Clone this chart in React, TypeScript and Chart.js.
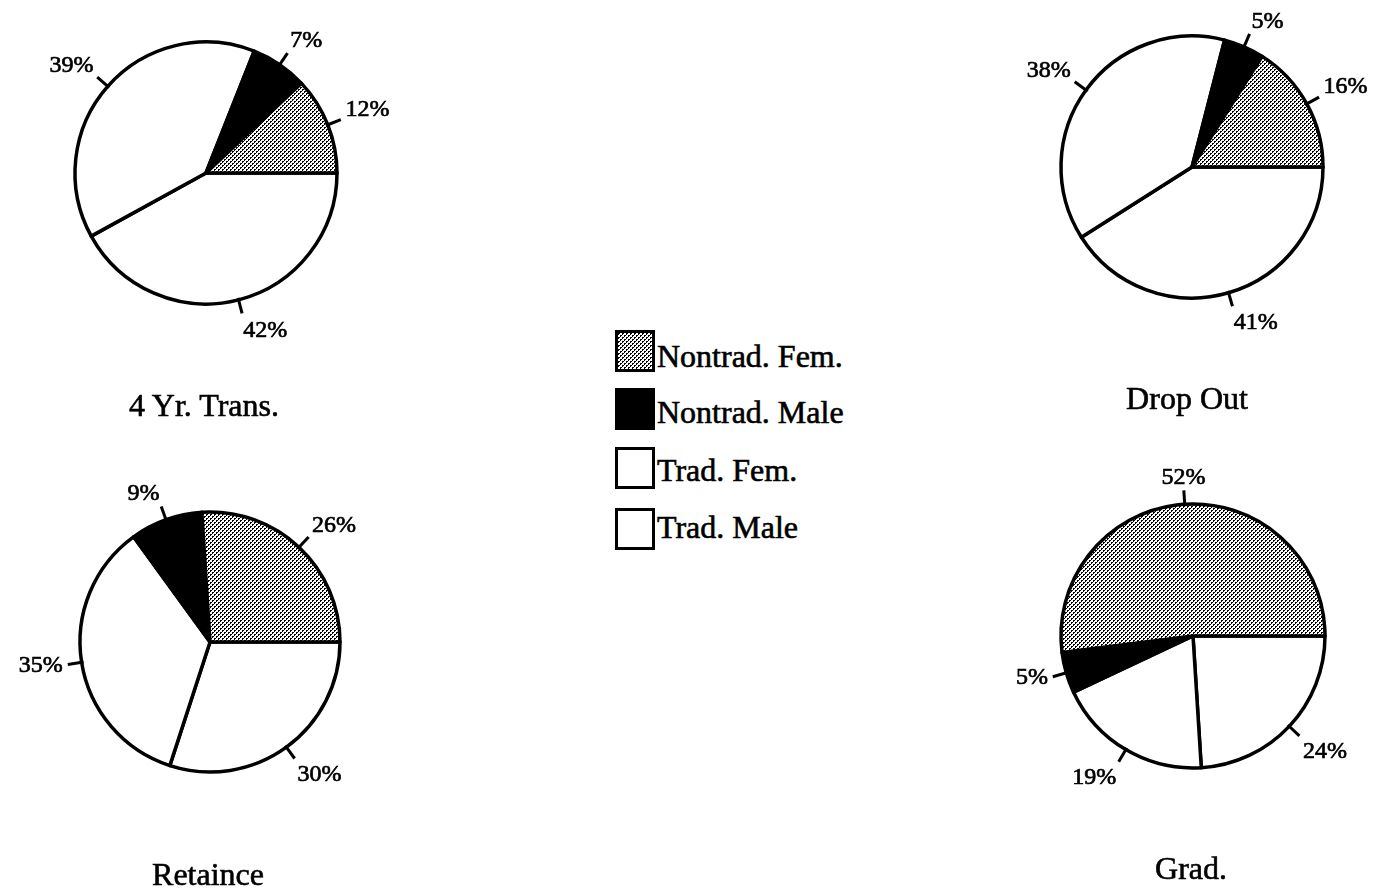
import React, { useEffect, useMemo, useRef } from "react";
import { Chart, registerables } from "chart.js";

Chart.register(...registerables);

// ---------- data ----------
const categories = ["Nontrad. Fem.", "Nontrad. Male", "Trad. Fem.", "Trad. Male"];
const transferValues = [12, 7, 39, 42];
const dropOutValues = [16, 5, 38, 41];
const retainceValues = [26, 9, 35, 30];
const gradValues = [52, 5, 19, 24];
const chartTitles = ["4 Yr. Trans.", "Drop Out", "Retaince", "Grad."];

const SERIF = "'Liberation Serif', 'Times New Roman', serif";

function makeStippleCanvas(): HTMLCanvasElement {
  const c = document.createElement("canvas");
  c.width = 4;
  c.height = 4;
  const g = c.getContext("2d")!;
  g.fillStyle = "#ffffff";
  g.fillRect(0, 0, 4, 4);
  g.fillStyle = "#000000";
  g.fillRect(0, 0, 2, 1);
  g.fillRect(0, 1, 1, 1);
  g.fillRect(2, 2, 2, 1);
  g.fillRect(2, 3, 1, 1);
  return c;
}

const pctLabels = {
  id: "pctLabels",
  afterDatasetsDraw(chart: any) {
    const ctx = chart.ctx as CanvasRenderingContext2D;
    const meta = chart.getDatasetMeta(0);
    const values = chart.data.datasets[0].data as number[];
    ctx.save();
    ctx.font = `24px ${SERIF}`;
    ctx.fillStyle = "#000";
    ctx.strokeStyle = "#000";
    meta.data.forEach((arc: any, i: number) => {
      const { x, y, startAngle, endAngle, outerRadius } = arc.getProps(
        ["x", "y", "startAngle", "endAngle", "outerRadius"],
        true
      );
      const a = (startAngle + endAngle) / 2;
      const c = Math.cos(a);
      const s = Math.sin(a);
      ctx.lineWidth = 3;
      ctx.beginPath();
      ctx.moveTo(x + c * (outerRadius - 2), y + s * (outerRadius - 2));
      ctx.lineTo(x + c * (outerRadius + 14), y + s * (outerRadius + 14));
      ctx.stroke();
      const lx = x + c * (outerRadius + 19);
      let ly = y + s * (outerRadius + 19);
      ctx.textAlign = c > 0.2 ? "left" : c < -0.2 ? "right" : "center";
      if (s < -0.3) {
        ctx.textBaseline = "bottom";
        ly += 4;
      } else if (s > 0.3) {
        ctx.textBaseline = "top";
      } else {
        ctx.textBaseline = "middle";
      }
      const txt = values[i] + "%";
      ctx.fillText(txt, lx, ly);
      ctx.lineWidth = 0.7;
      ctx.strokeText(txt, lx, ly);
    });
    ctx.restore();
  },
};

type PieProps = { values: number[]; cx: number; cy: number; r: number };

const SIZE = 440;

function Pie({ values, cx, cy, r }: PieProps) {
  const ref = useRef<HTMLCanvasElement | null>(null);
  useEffect(() => {
    if (!ref.current) return;
    const stipple = ref.current.getContext("2d")!.createPattern(makeStippleCanvas(), "repeat");
    const colors = [stipple, "#000000", "#ffffff", "#ffffff"];
    // Chart.js draws clockwise; the original runs counter-clockwise from 3 o'clock,
    // so feed the series in reverse order starting at 3 o'clock.
    const order = [3, 2, 1, 0];
    const chart = new Chart(ref.current, {
      type: "pie",
      data: {
        labels: order.map((i) => categories[i]),
        datasets: [
          {
            data: order.map((i) => values[i]),
            backgroundColor: order.map((i) => colors[i]) as any,
            borderColor: "#000000",
            borderWidth: 3.5,
            borderJoinStyle: "round",
            radius: r,
          } as any,
        ],
      },
      options: {
        animation: false,
        responsive: false,
        rotation: 90,
        radius: r,
        events: [],
        layout: { padding: 0 },
        plugins: {
          legend: { display: false },
          tooltip: { enabled: false },
          title: { display: false },
        },
      } as any,
      plugins: [pctLabels],
    });
    return () => chart.destroy();
  }, [values, r]);
  return (
    <canvas
      ref={ref}
      width={SIZE}
      height={SIZE}
      style={{ position: "absolute", left: cx - SIZE / 2, top: cy - SIZE / 2, width: SIZE, height: SIZE }}
    />
  );
}

const textStyle: React.CSSProperties = {
  fontFamily: SERIF,
  fontSize: 32,
  lineHeight: "32px",
  color: "#000",
  whiteSpace: "nowrap",
  WebkitTextStroke: "0.6px #000",
};

function Title({ text, cx, capY }: { text: string; cx: number; capY: number }) {
  return (
    <div
      style={{
        position: "absolute",
        left: cx - 200,
        width: 400,
        top: capY - 16,
        textAlign: "center",
        ...textStyle,
      }}
    >
      {text}
    </div>
  );
}

function Legend() {
  const stippleUrl = useMemo(() => makeStippleCanvas().toDataURL(), []);
  const boxTops = [330, 388, 447, 508];
  const textCaps = [356, 412, 470, 527];
  const fills = [
    { backgroundImage: `url(${stippleUrl})`, backgroundRepeat: "repeat" },
    { background: "#000" },
    { background: "#fff" },
    { background: "#fff" },
  ];
  return (
    <>
      {categories.map((name, i) => (
        <React.Fragment key={name}>
          <div
            style={{
              position: "absolute",
              left: 615,
              top: boxTops[i],
              width: 40,
              height: 42,
              boxSizing: "border-box",
              border: "3.5px solid #000",
              ...(fills[i] as any),
            }}
          />
          <div
            style={{
              position: "absolute",
              left: 657,
              top: textCaps[i] - 16,
              ...textStyle,
            }}
          >
            {name}
          </div>
        </React.Fragment>
      ))}
    </>
  );
}

export default function App() {
  return (
    <div
      style={{
        position: "absolute",
        left: 0,
        top: 0,
        width: 1374,
        height: 894,
        overflow: "hidden",
        background: "#fff",
      }}
    >
      <Pie values={transferValues} cx={206} cy={173} r={131} />
      <Pie values={dropOutValues} cx={1192} cy={167} r={131} />
      <Pie values={retainceValues} cx={210} cy={642} r={130} />
      <Pie values={gradValues} cx={1193} cy={636} r={132} />
      <Title text={chartTitles[0]} cx={204} capY={405} />
      <Title text={chartTitles[1]} cx={1187} capY={398} />
      <Title text={chartTitles[2]} cx={208} capY={874} />
      <Title text={chartTitles[3]} cx={1191} capY={868} />
      <Legend />
    </div>
  );
}
